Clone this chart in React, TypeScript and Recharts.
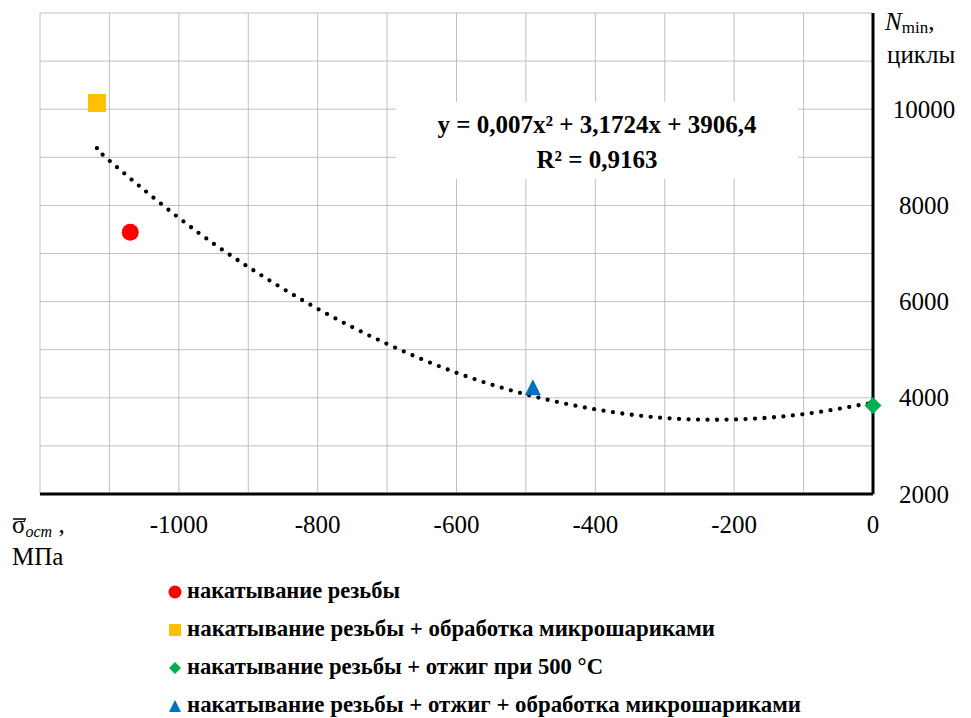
import React from 'react';
import { ComposedChart, Scatter, Line, XAxis, YAxis, CartesianGrid } from 'recharts';

// axis ticks (grid every 100 / 1000, labels only on some)
const xTicks = [-1200, -1100, -1000, -900, -800, -700, -600, -500, -400, -300, -200, -100, 0];
const xLabels = [-1000, -800, -600, -400, -200, 0];
const yTicks = [2000, 3000, 4000, 5000, 6000, 7000, 8000, 9000, 10000, 11000, 12000];
const yLabels = [2000, 4000, 6000, 8000, 10000];

// measured points
const rolledX = [-1070];
const rolledY = [7440];
const shotX = [-1118];
const shotY = [10130];
const annealX = [0];
const annealY = [3840];
const annealShotX = [-490];
const annealShotY = [4220];

// polynomial trend line
const trendX = [-1118, -1100, -1000, -900, -800, -700, -600, -500, -400, -300, -200, -100, 0];
const trendY = [9190, 8930, 7740, 6720, 5850, 5120, 4520, 4070, 3760, 3580, 3550, 3660, 3900];

const legendNames = [
  'накатывание резьбы',
  'накатывание резьбы + обработка микрошариками',
  'накатывание резьбы + отжиг при 500 °С',
  'накатывание резьбы + отжиг + обработка микрошариками',
];

const FONT = '"Times New Roman", "Liberation Serif", Tinos, serif';
const serif = { fontFamily: FONT };
const W = 971;
const H = 718;

const toPoints = (xs: number[], ys: number[]) => xs.map((x, i) => ({ x, y: ys[i] }));

type Kind = 'circle' | 'square' | 'diamond' | 'triangle';

const drawMarker = (kind: Kind, color: string, cx: number, cy: number, s: number) => {
  const h = s / 2;
  if (kind === 'circle') return <circle cx={cx} cy={cy} r={h} fill={color} />;
  if (kind === 'square') return <rect x={cx - h} y={cy - h} width={s} height={s} fill={color} />;
  if (kind === 'diamond')
    return <polygon points={`${cx},${cy - h} ${cx + h},${cy} ${cx},${cy + h} ${cx - h},${cy}`} fill={color} />;
  return <polygon points={`${cx},${cy - h} ${cx + h},${cy + h} ${cx - h},${cy + h}`} fill={color} />;
};

const markerShape = (kind: Kind, color: string, s: number) => (props: any) =>
  drawMarker(kind, color, props.cx, props.cy, s);

const XTick = (props: any) => {
  const v = props.payload.value;
  if (!xLabels.includes(v)) return null;
  return (
    <text x={props.x} y={533} textAnchor="middle" style={serif} fontSize={25} fill="#000">
      {v}
    </text>
  );
};

const YTick = (props: any) => {
  const v = props.payload.value;
  if (!yLabels.includes(v)) return null;
  return (
    <text x={924} y={props.y + 8.5} textAnchor="middle" style={serif} fontSize={25} fill="#000">
      {v}
    </text>
  );
};

const legendRows = [
  { kind: 'circle' as Kind, color: '#ff0000', size: 13, y: 592, w: 213 },
  { kind: 'square' as Kind, color: '#ffc000', size: 12, y: 630, w: 528 },
  { kind: 'diamond' as Kind, color: '#00b050', size: 12, y: 668, w: 416 },
  { kind: 'triangle' as Kind, color: '#0070c0', size: 12, y: 706, w: 614 },
];

export default function App() {
  return (
    <div style={{ position: 'absolute', left: 0, top: 0, width: W, height: H, background: '#fff', fontFamily: FONT }}>
      <ComposedChart width={W} height={H} margin={{ top: 13, right: 8, left: 40, bottom: 184 }}>
        <CartesianGrid stroke="#c0c0c0" strokeWidth={1} />
        <XAxis
          dataKey="x"
          type="number"
          domain={[-1200, 0]}
          ticks={xTicks}
          interval={0}
          tick={<XTick />}
          tickLine={false}
          axisLine={{ stroke: '#000', strokeWidth: 3 }}
          height={40}
        />
        <YAxis
          dataKey="y"
          type="number"
          orientation="right"
          domain={[2000, 12000]}
          ticks={yTicks}
          interval={0}
          tick={<YTick />}
          tickLine={false}
          axisLine={{ stroke: '#000', strokeWidth: 3 }}
          width={90}
        />
        <Line
          data={toPoints(trendX, trendY)}
          dataKey="y"
          type="natural"
          stroke="#000"
          strokeWidth={4.3}
          strokeDasharray="0 9.5"
          strokeLinecap="round"
          dot={false}
          activeDot={false}
          isAnimationActive={false}
        />
        <Scatter data={toPoints(rolledX, rolledY)} dataKey="y" shape={markerShape('circle', '#ff0000', 17)} isAnimationActive={false} />
        <Scatter data={toPoints(shotX, shotY)} dataKey="y" shape={markerShape('square', '#ffc000', 18)} isAnimationActive={false} />
        <Scatter data={toPoints(annealX, annealY)} dataKey="y" shape={markerShape('diamond', '#00b050', 17)} isAnimationActive={false} />
        <Scatter data={toPoints(annealShotX, annealShotY)} dataKey="y" shape={markerShape('triangle', '#0070c0', 16)} isAnimationActive={false} />
      </ComposedChart>

      <svg width={W} height={H} style={{ position: 'absolute', left: 0, top: 0, pointerEvents: 'none', fontFamily: FONT }}>
        {/* trend equation */}
        <rect x={396} y={102} width={402} height={77} fill="#fff" />
        <text x={597} y={133} textAnchor="middle" style={serif} fontSize={25} fontWeight="bold" fill="#000">
          y = 0,007x² + 3,1724x + 3906,4
        </text>
        <text x={597} y={168} textAnchor="middle" style={serif} fontSize={25} fontWeight="bold" fill="#000">
          R² = 0,9163
        </text>

        {/* x axis title */}
        <text x={12} y={533} style={serif} fontSize={25} fill="#000">
          σ
          <tspan fontSize={16} fontStyle="italic" dy={4}>ост</tspan>
          <tspan dy={-4}> ,</tspan>
        </text>
        <line x1={13} y1={519} x2={26} y2={519} stroke="#000" strokeWidth={1.5} />
        <text x={12} y={565} style={serif} fontSize={25} fill="#000">МПа</text>

        {/* y axis title */}
        <text x={885} y={30} style={serif} fontSize={25} fill="#000">
          <tspan fontStyle="italic">N</tspan>
          <tspan fontSize={17} dy={3}>min</tspan>
          <tspan dy={-3}>,</tspan>
        </text>
        <text x={887} y={63} style={serif} fontSize={25} fill="#000">циклы</text>

        {/* legend */}
        {legendRows.map((r, i) => (
          <g key={i}>
            {drawMarker(r.kind, r.color, 175, r.y, r.size)}
            <text
              x={187}
              y={r.y + 6}
              style={serif}
              fontSize={23}
              fontWeight="bold"
              fill="#000"
              textLength={r.w}
              lengthAdjust="spacingAndGlyphs"
            >
              {legendNames[i]}
            </text>
          </g>
        ))}
      </svg>
    </div>
  );
}
